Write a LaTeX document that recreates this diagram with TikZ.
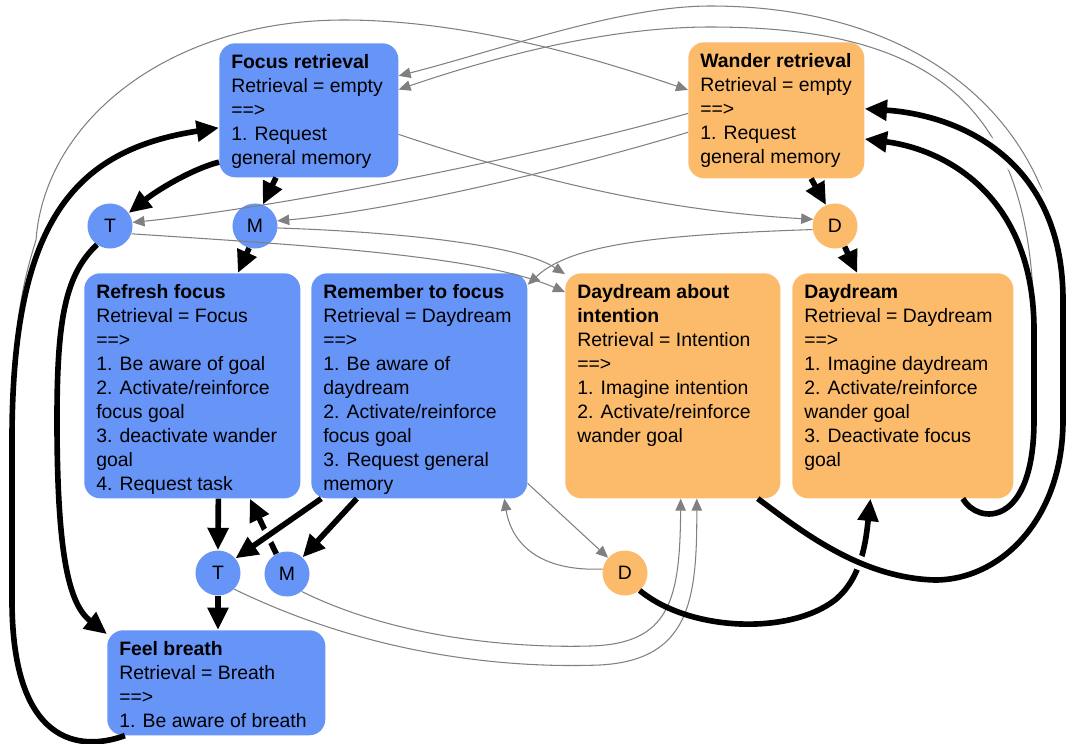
\documentclass[tikz,border=0pt]{standalone}
\usepackage{fontspec}
\setmainfont{Liberation Sans}
\usetikzlibrary{arrows.meta}
\definecolor{focusblue}{RGB}{103,148,247}
\definecolor{wanderorange}{RGB}{251,187,106}
\newcommand{\prodtext}[3]{\parbox[t][#2][t]{#1}{#3}}
\tikzset{
	prodbox/.style={rounded corners=0.4cm, inner xsep=0.3cm, inner ysep=0.275cm, anchor=north west},
	fprod/.style={prodbox, fill=focusblue},
	wprod/.style={prodbox, fill=wanderorange},
	buffer/.style={circle, minimum size=1.125cm, inner sep=0pt},
	fbuffer/.style={buffer, fill=focusblue},
	wbuffer/.style={buffer, fill=wanderorange},
	strongarr/.style={line width=4pt, -{Triangle[length=0.56cm,width=0.5cm]}},
	weakarr/.style={line width=0.75pt, gray, -{Triangle[length=0.3cm,width=0.26cm]}},
	jump/.style={preaction={draw=white, line width=10pt, -, shorten <=8pt, shorten >=16pt}}
}

\begin{document}
\begin{tikzpicture}[x=0.025cm, y=-0.025cm, font=\fontsize{13.8pt}{17.1pt}\selectfont]
	\useasboundingbox (0,0) rectangle (1068,744);
	% productions
	\node[fprod] (fr) at (219,43) {\prodtext{3.875cm}{2.8cm}{\textbf{Focus retrieval}\\Retrieval = empty\\==>\\1. Request\\general memory}};
	\node[wprod] (wr) at (688,42) {\prodtext{3.8cm}{2.85cm}{\textbf{Wander retrieval}\\Retrieval = empty\\==>\\1. Request\\general memory}};
	\node[fprod] (rf) at (84,273) {\prodtext{4.8cm}{5.075cm}{\textbf{Refresh focus}\\Retrieval = Focus\\==>\\1. Be aware of goal\\2. Activate/reinforce\\focus goal\\3. deactivate wander\\goal\\4. Request task}};
	\node[fprod] (rm) at (311,273) {\prodtext{4.8cm}{5.075cm}{\textbf{Remember to focus}\\Retrieval = Daydream\\==>\\1. Be aware of\\daydream\\2. Activate/reinforce\\focus goal\\3. Request general\\memory}};
	\node[wprod] (di) at (565,273) {\prodtext{4.775cm}{5.075cm}{\textbf{Daydream about}\\\textbf{intention}\\Retrieval = Intention\\==>\\1. Imagine intention\\2. Activate/reinforce\\wander goal}};
	\node[wprod] (dd) at (792,273) {\prodtext{4.925cm}{5.075cm}{\textbf{Daydream}\\Retrieval = Daydream\\==>\\1. Imagine daydream\\2. Activate/reinforce\\wander goal\\3. Deactivate focus\\goal}};
	\node[fprod] (fb) at (107,630) {\prodtext{4.85cm}{2.075cm}{\textbf{Feel breath}\\Retrieval = Breath\\==>\\1. Be aware of breath}};
	% retrieved chunks
	\node[fbuffer] (T1) at (110,226) {T};
	\node[fbuffer] (M1) at (255,226) {M};
	\node[wbuffer] (D1) at (835,226) {D};
	\node[fbuffer] (T2) at (218,573) {T};
	\node[fbuffer] (M2) at (287,574) {M};
	\node[wbuffer] (D2) at (625,573) {D};
	%
	% weak links
	\draw[weakarr] (fb.210) .. controls (80,752) and (12,745) .. (12,600) -- (12,440) .. controls (12,330) and (22,285) .. (36,240) .. controls (45,120) and (170,20) .. (344,20) .. controls (470,20) and (600,60) .. (wr.167);
	\draw[weakarr] (di.-53) .. controls (800,530) and (860,578) .. (935,580) .. controls (1000,580) and (1063,520) .. (1063,420) -- (1063,300) .. controls (1063,130) and (930,6) .. (710,6) .. controls (620,6) and (500,50) .. (fr.21);
	\draw[weakarr] (dd.-62) .. controls (978,525) and (1034,528) .. (1034,420) -- (1034,330) .. controls (1034,110) and (940,27) .. (710,27) .. controls (610,27) and (500,55) .. (fr.13);
	\draw[weakarr] (wr.182) .. controls (560,150) and (300,205) .. (T1.9);
	\draw[weakarr] (wr.194) .. controls (580,165) and (400,210) .. (M1.13);
	\draw[weakarr] (fr.-15) .. controls (520,175) and (650,210) .. (D1.163);
	\draw[weakarr] (D1.189) .. controls (650,235) and (570,245) .. (rm.43);
	\draw[weakarr] (T1.-20) .. controls (300,245) and (480,255) .. (di.139);
	\draw[weakarr] (M1.-5) .. controls (400,232) and (520,245) .. (di.134);
	\draw[weakarr] (rm.-42) -- (D2.138);
	\draw[weakarr] (D2.170) .. controls (530,572) and (510,535) .. (rm.-53);
	\draw[weakarr] (T2.-45) .. controls (380,660) and (520,668) .. (600,665) .. controls (690,660) and (697,600) .. (di.-78);
	\draw[weakarr] (M2.-50) .. controls (400,640) and (520,648) .. (590,646) .. controls (670,644) and (680,600) .. (di.-86);
	%
	% strong links
	\draw[strongarr] (fr.210) .. controls (195,168) and (160,188) .. (T1.35);
	\draw[strongarr] (fr.244) -- (M1.70);
	\draw[strongarr] (M1.-105) -- (rf.68);
	\draw[strongarr] (T1.235) .. controls (65,275) and (57,320) .. (57,420) .. controls (57,560) and (70,605) .. (fb.156);
	\draw[strongarr] (fb.210) .. controls (80,752) and (12,745) .. (12,600) -- (12,440) .. controls (12,220) and (75,150) .. (fr.191);
	\draw[strongarr] (wr.-63) -- (D1.113);
	\draw[strongarr] (D1.-65) -- (dd.112);
	\draw[strongarr] (rf.283) -- (T2.north);
	\draw[strongarr] (M2.118) -- (rf.-63);
	\draw[strongarr, jump] (rm.229) -- (T2.40);
	\draw[strongarr] (rm.241) -- (M2.47);
	\draw[strongarr] (T2.south) -- (T2.south |- fb.north);
	\draw[strongarr] (D2.-50) .. controls (690,632) and (790,635) .. (835,600) .. controls (862,578) and (866,540) .. (dd.-106);
	\draw[strongarr, jump] (di.-53) .. controls (800,530) and (860,578) .. (935,580) .. controls (1000,580) and (1063,520) .. (1063,420) -- (1063,300) .. controls (1063,160) and (960,115) .. (wr.1);
	\draw[strongarr] (dd.-62) .. controls (978,525) and (1034,528) .. (1034,420) -- (1034,330) .. controls (1034,200) and (950,150) .. (wr.-18);
\end{tikzpicture}
\end{document}
